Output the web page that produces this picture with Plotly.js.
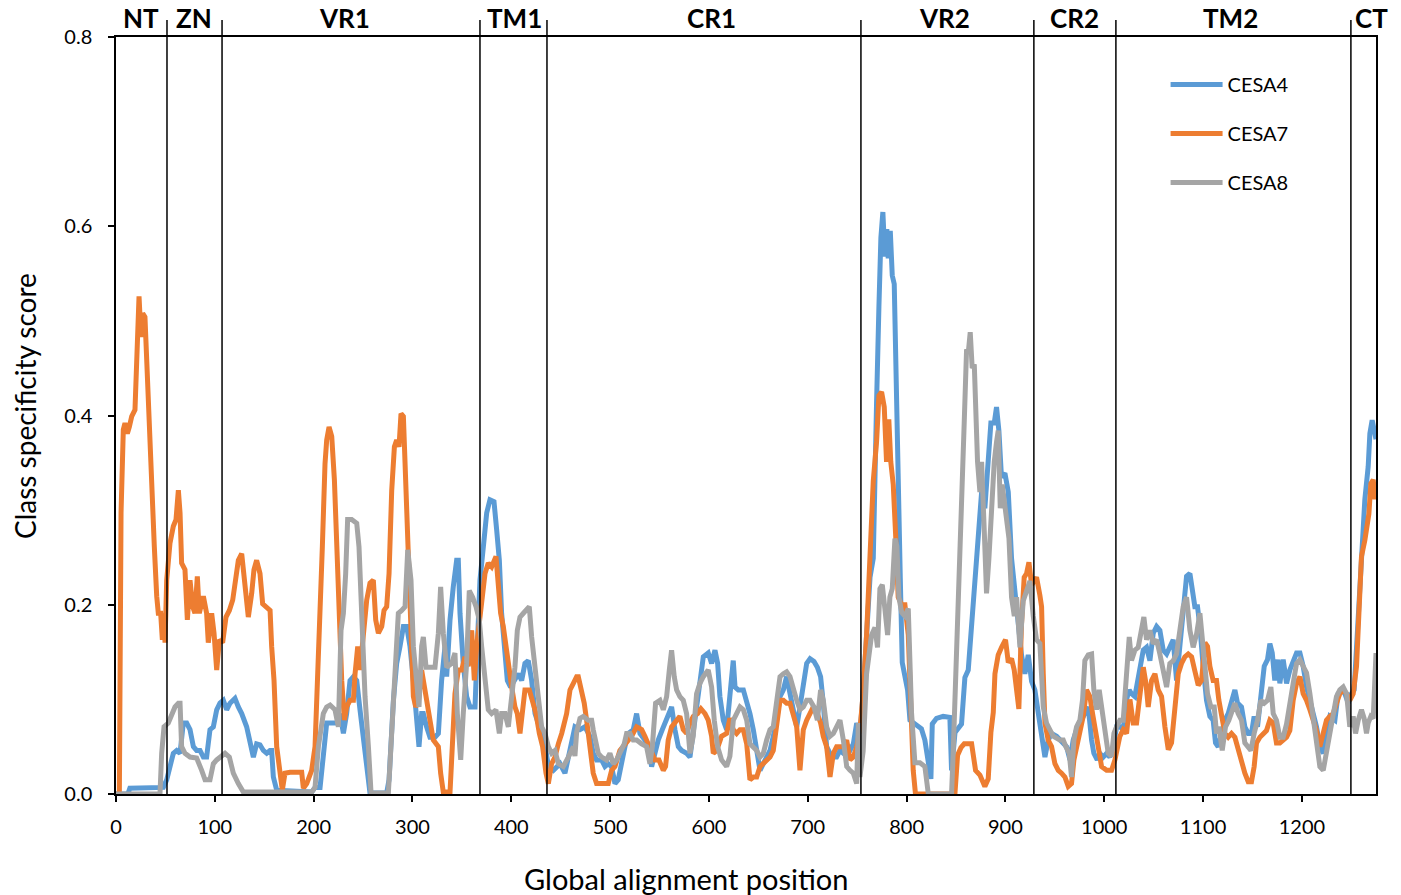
<!DOCTYPE html>
<html>
<head>
<meta charset="utf-8">
<script src="https://cdn.plot.ly/plotly-3.0.1.min.js"></script>
<style>
html,body{margin:0;padding:0;background:#fff;}
#chart{width:1401px;height:895px;}
</style>
</head>
<body>
<div id="chart"></div>
<script>
// ---- Data ----
const seriesNames = ["CESA4", "CESA7", "CESA8"];

// [alignment position, class specificity score]
const cesa4Points = [[0,0],[12,0],[14,0.006],[45,0.006],[47.9,0.007],[51.3,0.015],[54.6,0.029],[58,0.043],[61.4,0.046],[64.8,0.043],[68.1,0.075],[71.5,0.075],[74.9,0.068],[78.3,0.05],[81.6,0.046],[85,0.046],[88.4,0.039],[91.7,0.039],[95.1,0.068],[98.5,0.071],[101.9,0.089],[105.2,0.096],[108.6,0.099],[112,0.089],[115.4,0.096],[120.4,0.101],[123.8,0.092],[127.2,0.085],[132.2,0.071],[135.6,0.057],[139,0.039],[142.3,0.053],[145.7,0.052],[149.1,0.046],[152.5,0.043],[155.8,0.046],[157.5,0.046],[159.2,0.018],[162.6,0.004],[198,0.002],[201.4,0.007],[206.5,0.007],[209.8,0.039],[213.2,0.075],[218.3,0.075],[223.3,0.075],[226.7,0.085],[230.1,0.064],[233.4,0.085],[236.8,0.12],[240.2,0.124],[243.6,0.12],[246.9,0.089],[250.3,0.06],[253.7,0.029],[257,0.001],[273.9,0.001],[276.3,0.015],[280.7,0.099],[284,0.138],[287.4,0.156],[290.8,0.177],[294.2,0.177],[297.5,0.156],[300.9,0.12],[304.3,0.085],[306.6,0.05],[309.3,0.085],[311,0.085],[314.3,0.071],[317.7,0.06],[322.8,0.06],[326.2,0.064],[329.5,0.12],[332.9,0.156],[334.6,0.124],[338,0.184],[341.3,0.219],[344.7,0.247],[346.4,0.247],[348.1,0.191],[351.4,0.138],[354.8,0.103],[358.2,0.092],[363.3,0.092],[365.6,0.156],[368.3,0.226],[371.7,0.261],[375.1,0.297],[378.4,0.311],[382.5,0.309],[385.2,0.279],[387.9,0.247],[390.2,0.191],[392.6,0.156],[396,0.12],[399.3,0.113],[403.7,0.12],[407.1,0.127],[410.5,0.12],[413.8,0.138],[417.2,0.141],[420.6,0.12],[424,0.085],[428.4,0.071],[432.4,0.064],[437.5,0.029],[442.5,0.025],[449.3,0.032],[454.3,0.022],[459.4,0.05],[464.4,0.071],[469.5,0.068],[474.5,0.071],[479.6,0.061],[482.9,0.043],[486.3,0.036],[491.4,0.036],[494.8,0.029],[498.1,0.032],[501.5,0.029],[504.9,0.011],[508.2,0.015],[511.6,0.036],[515,0.05],[518.4,0.064],[523.4,0.068],[526.8,0.085],[530.2,0.064],[535.2,0.057],[538.6,0.05],[542,0.029],[545.4,0.043],[548.7,0.057],[552.8,0.068],[557.2,0.078],[562.2,0.092],[565.6,0.068],[569,0.05],[572.3,0.046],[577.4,0.043],[580.8,0.039],[584.1,0.064],[587.5,0.096],[590.9,0.124],[594.3,0.145],[599.3,0.149],[602.7,0.138],[606.1,0.152],[608.8,0.138],[611.1,0.103],[614.5,0.078],[617.9,0.068],[621.2,0.103],[624.6,0.141],[626.4,0.113],[629.7,0.11],[634.8,0.11],[638.2,0.099],[641.5,0.085],[644.9,0.068],[648.3,0.043],[651.7,0.025],[655,0.032],[658.4,0.039],[661.8,0.046],[665.1,0.061],[668.5,0.078],[671.9,0.103],[675.3,0.11],[678.6,0.124],[682,0.106],[685.4,0.089],[688.8,0.071],[692.1,0.092],[695.5,0.113],[698.9,0.138],[702.3,0.143],[706.3,0.14],[709.7,0.134],[713,0.124],[715.7,0.096],[719.1,0.05],[722.5,0.043],[725.9,0.039],[729.2,0.039],[732.6,0.046],[736,0.043],[739.4,0.046],[742.7,0.046],[746.1,0.053],[749.5,0.075],[752.8,0.064],[756,0.106],[759.5,0.168],[763,0.229],[766.3,0.249],[768,0.31],[769.6,0.413],[772,0.515],[774,0.588],[776,0.615],[778,0.568],[780,0.597],[781.4,0.566],[783.5,0.595],[785.5,0.548],[787.5,0.539],[789.5,0.454],[791.5,0.331],[793.6,0.229],[795.6,0.139],[798.3,0.123],[801,0.11],[803.4,0.078],[808.4,0.074],[815,0.069],[818.5,0.057],[822,0.033],[824.6,0.016],[826,0.074],[830.3,0.08],[837,0.082],[843.8,0.081],[845.5,0.025],[849,0.065],[855.6,0.074],[859,0.123],[862.4,0.131],[865.8,0.18],[868.5,0.229],[870.8,0.249],[873.2,0.29],[875.9,0.319],[879.2,0.302],[882,0.351],[885.3,0.392],[888.7,0.392],[891,0.409],[893.4,0.384],[896,0.335],[899.5,0.339],[902.9,0.319],[906.2,0.249],[909.6,0.212],[913,0.188],[916.3,0.147],[919.7,0.127],[923.1,0.147],[926.5,0.119],[929.8,0.11],[934.9,0.074],[940,0.039],[943.3,0.057],[946.7,0.064],[951.8,0.061],[958.5,0.054],[961.9,0.05],[965.3,0.036],[968.6,0.057],[972,0.068],[975.4,0.075],[980.4,0.085],[983.8,0.092],[987.2,0.057],[989.5,0.043],[992.9,0.036],[995.6,0.043],[999,0.039],[1002.4,0.043],[1005.7,0.039],[1009.1,0.05],[1012.5,0.071],[1015.8,0.071],[1019.2,0.068],[1022.6,0.1],[1025.3,0.11],[1027.6,0.106],[1031,0.103],[1033.4,0.117],[1036.1,0.127],[1039.5,0.152],[1042.8,0.155],[1046.2,0.141],[1049.6,0.17],[1053,0.177],[1056.3,0.173],[1059.7,0.152],[1063.1,0.148],[1066.4,0.155],[1069.8,0.163],[1073.2,0.12],[1076.6,0.155],[1079.9,0.201],[1083.3,0.23],[1086.7,0.233],[1089.4,0.216],[1091.7,0.198],[1094.4,0.198],[1096.8,0.177],[1100.1,0.135],[1103.5,0.099],[1106.9,0.082],[1110.2,0.078],[1112.6,0.054],[1115.3,0.05],[1118.7,0.064],[1122.1,0.078],[1125.4,0.085],[1129.5,0.099],[1132.2,0.11],[1134.9,0.096],[1138.9,0.092],[1142.3,0.071],[1145.7,0.064],[1149,0.064],[1151.7,0.082],[1155.1,0.071],[1158.5,0.106],[1161.9,0.135],[1165.2,0.142],[1167.6,0.159],[1170,0.149],[1172.6,0.12],[1175.7,0.142],[1177.7,0.117],[1181.1,0.142],[1184.5,0.117],[1187.8,0.131],[1191.2,0.142],[1194.6,0.149],[1198,0.149],[1201.3,0.135],[1204.7,0.113],[1208.1,0.099],[1211.4,0.082],[1214.8,0.071],[1218.2,0.05],[1221.6,0.043],[1224.9,0.067],[1228.3,0.082],[1233.4,0.078],[1236.7,0.106],[1240.1,0.11],[1243.5,0.106],[1246.9,0.096],[1250.2,0.106],[1252.9,0.11],[1255.3,0.152],[1257.6,0.205],[1260.3,0.258],[1263.7,0.311],[1267.1,0.346],[1268.8,0.381],[1271.1,0.395],[1273.8,0.378],[1275,0.375]];

const cesa7Points = [[0,0],[3.4,0],[5.1,0.297],[7.4,0.385],[9.1,0.392],[11.5,0.381],[13.5,0.388],[15.9,0.399],[19.2,0.406],[20.9,0.455],[23.3,0.526],[25.3,0.483],[27,0.508],[29.3,0.504],[31,0.455],[33.4,0.402],[36.1,0.325],[38.8,0.261],[41.2,0.209],[42.8,0.191],[45.2,0.191],[46.9,0.163],[48.6,0.191],[49.6,0.16],[51.3,0.226],[54.6,0.265],[58,0.283],[60.7,0.29],[63.1,0.321],[64.8,0.297],[66.4,0.244],[69.8,0.237],[72.2,0.184],[74.9,0.226],[77.6,0.198],[79.9,0.191],[82.3,0.23],[84.3,0.191],[88.4,0.209],[91.7,0.191],[93.4,0.16],[96.8,0.191],[99.2,0.17],[101.9,0.131],[104.6,0.163],[107.9,0.16],[111.3,0.187],[114.7,0.194],[118.1,0.205],[121.4,0.226],[123.8,0.247],[127.2,0.254],[130.5,0.226],[133.9,0.187],[137.3,0.212],[139.6,0.237],[142.3,0.247],[145.7,0.233],[148.4,0.201],[152.5,0.198],[155.9,0.194],[157.5,0.156],[159.9,0.12],[162.6,0.05],[166,0.018],[168.3,0.004],[171,0.022],[176.1,0.023],[187.9,0.023],[189.6,0.006],[193,0.011],[198,0.025],[201.4,0.05],[204.1,0.12],[206.5,0.191],[208.8,0.261],[211.5,0.349],[213.2,0.374],[215.6,0.388],[218.3,0.378],[221,0.332],[223.3,0.261],[225.7,0.191],[228.4,0.12],[231.1,0.078],[233.4,0.092],[236.8,0.099],[240.2,0.099],[241.9,0.127],[244.6,0.156],[246.9,0.131],[250.3,0.163],[253.7,0.205],[257,0.223],[260.4,0.226],[262.8,0.184],[265.5,0.17],[268.9,0.177],[271.2,0.194],[273.9,0.198],[276.3,0.233],[279,0.321],[281.7,0.367],[284,0.374],[286.4,0.367],[288.4,0.402],[290.8,0.399],[293.1,0.332],[295.8,0.244],[298.5,0.156],[300.9,0.103],[303.3,0.092],[306,0.099],[309.3,0.131],[311,0.12],[314.3,0.092],[317.7,0.078],[321.1,0.057],[326.2,0.05],[328.5,0.022],[331.2,0.002],[338,0.002],[340.7,0.05],[343,0.106],[346.4,0.131],[349.8,0.131],[353.1,0.145],[356.5,0.135],[359.9,0.173],[362.6,0.12],[364.9,0.156],[367.6,0.184],[370,0.208],[373.4,0.233],[376.7,0.244],[380.1,0.24],[384.5,0.251],[386.9,0.215],[389.2,0.191],[391.9,0.177],[394.6,0.156],[397,0.134],[400.4,0.113],[403.7,0.092],[406.1,0.085],[408.8,0.064],[411.5,0.085],[413.8,0.11],[418.2,0.11],[421.6,0.099],[425,0.085],[428.4,0.064],[431.7,0.05],[435.1,0.022],[437.5,0.011],[440.8,0.032],[444.2,0.039],[447.6,0.053],[451,0.064],[456,0.085],[459.4,0.11],[462.8,0.117],[466.1,0.124],[467.8,0.124],[471.1,0.11],[473.8,0.096],[476.2,0.078],[479.6,0.043],[482.9,0.022],[486.3,0.011],[498.1,0.011],[501.5,0.025],[504.9,0.029],[509.9,0.046],[513.3,0.05],[517.7,0.057],[521.7,0.061],[526.8,0.071],[531.9,0.068],[535.2,0.061],[538.6,0.053],[542,0.043],[545.4,0.036],[549.4,0.036],[553.8,0.025],[556.1,0.029],[558.8,0.057],[562.2,0.071],[565.6,0.075],[570.6,0.082],[574,0.068],[577.4,0.064],[580.8,0.075],[584.1,0.082],[588.5,0.085],[591.9,0.09],[596,0.085],[599.3,0.078],[602.7,0.061],[604.4,0.043],[607.8,0.046],[612.8,0.061],[617.9,0.064],[621.2,0.08],[624.6,0.068],[628,0.064],[631.4,0.068],[634.8,0.068],[638.2,0.053],[641.5,0.015],[644.9,0.018],[648.3,0.018],[651.7,0.029],[655,0.032],[658.4,0.036],[661.8,0.039],[665.1,0.046],[668.5,0.078],[671.9,0.099],[675.3,0.099],[678.6,0.096],[682,0.096],[685.4,0.085],[688.8,0.071],[692.1,0.025],[695.5,0.068],[698.9,0.078],[702.3,0.085],[705.6,0.092],[709.7,0.085],[713,0.075],[715.7,0.061],[719.1,0.05],[722.5,0.018],[725.9,0.043],[729.2,0.05],[736,0.05],[739.4,0.057],[742.7,0.036],[746.1,0.039],[749.5,0.05],[752.8,0.068],[756,0.106],[759.5,0.168],[763,0.249],[766.3,0.331],[769.6,0.372],[772,0.421],[774.7,0.425],[777.4,0.409],[779.7,0.351],[782,0.396],[784,0.351],[786.5,0.327],[788.9,0.274],[791.5,0.208],[795,0.2],[798.3,0.2],[801.7,0.168],[804.4,0.086],[806.7,0.025],[809,0],[848.9,0],[851.6,0.041],[855,0.049],[858.3,0.053],[865.8,0.053],[869.8,0.025],[874.2,0.02],[879.2,0.008],[882.6,0.016],[885.3,0.065],[887.7,0.086],[889.4,0.127],[892.7,0.147],[896.1,0.155],[900.1,0.163],[902.9,0.139],[906.2,0.143],[908.9,0.131],[911.3,0.11],[913.6,0.09],[916.3,0.18],[919,0.229],[921.4,0.233],[923.8,0.245],[926.5,0.221],[931.5,0.229],[934.9,0.21],[936.6,0.198],[938.3,0.127],[940,0.075],[943.3,0.057],[946.7,0.05],[950.1,0.032],[953.5,0.025],[956.8,0.022],[960.2,0.018],[963.6,0.008],[966.9,0.011],[969.3,0.036],[972,0.05],[975.4,0.064],[978.7,0.082],[982.1,0.11],[985.5,0.103],[988.2,0.085],[990.6,0.071],[993.9,0.05],[997.3,0.029],[1002.4,0.025],[1007.4,0.025],[1010.8,0.036],[1013.2,0.05],[1015.8,0.061],[1019.2,0.068],[1022.6,0.064],[1026,0.1],[1029.3,0.075],[1032.7,0.075],[1036.1,0.11],[1039.5,0.134],[1042.2,0.117],[1044.5,0.092],[1047.9,0.12],[1051.3,0.127],[1054.6,0.11],[1058,0.103],[1061.4,0.071],[1064.8,0.047],[1068.1,0.054],[1071.5,0.085],[1074.9,0.127],[1078.2,0.138],[1081.6,0.145],[1085,0.148],[1088.4,0.145],[1091.7,0.13],[1095.1,0.115],[1098.5,0.12],[1101.9,0.16],[1104.5,0.156],[1106.9,0.135],[1110.2,0.12],[1113.6,0.12],[1116,0.099],[1118.7,0.082],[1122.1,0.064],[1125.4,0.06],[1128.8,0.064],[1132.2,0.06],[1135.5,0.046],[1138.9,0.036],[1142.3,0.022],[1145.7,0.013],[1149,0.013],[1151.7,0.029],[1154.1,0.054],[1157.5,0.06],[1160.8,0.064],[1164.2,0.067],[1167.6,0.078],[1171,0.075],[1174.3,0.054],[1177.7,0.054],[1181.1,0.057],[1184.5,0.06],[1187.8,0.067],[1191.2,0.099],[1194.6,0.117],[1198,0.124],[1201.3,0.106],[1204.7,0.099],[1208.1,0.089],[1211.4,0.078],[1214.8,0.067],[1218.2,0.05],[1221.6,0.064],[1224.9,0.078],[1228.3,0.082],[1231.7,0.085],[1235,0.096],[1238.4,0.106],[1241.8,0.11],[1245.2,0.106],[1248.5,0.099],[1251.9,0.106],[1255.3,0.135],[1257.6,0.188],[1260.3,0.251],[1263.7,0.268],[1265.4,0.282],[1267.8,0.296],[1269.8,0.328],[1272.2,0.332],[1273.8,0.314],[1275,0.314]];

const cesa8Points = [[0,0],[44.5,0],[46.2,0.043],[48.6,0.071],[52.9,0.075],[56.3,0.085],[59.7,0.092],[63.1,0.096],[64.8,0.096],[66.4,0.05],[69.8,0.043],[74.9,0.039],[81.6,0.038],[86.7,0.025],[90.1,0.015],[95.1,0.015],[98.5,0.032],[101.9,0.036],[105.2,0.039],[110.3,0.043],[114.7,0.039],[118.7,0.022],[123.8,0.011],[128.9,0.002],[198,0.002],[201.4,0.007],[204.8,0.05],[209.8,0.085],[213.2,0.092],[216.6,0.094],[221.6,0.089],[225,0.071],[227.7,0.173],[230.1,0.191],[232.4,0.233],[234.4,0.29],[238.5,0.29],[243.6,0.286],[245.9,0.261],[248.6,0.191],[252,0.103],[255.4,0.05],[258.1,0.001],[275.6,0.001],[278.3,0.05],[282.3,0.12],[285.7,0.191],[289.1,0.194],[292.5,0.198],[295.2,0.258],[298.5,0.226],[300.9,0.156],[304.3,0.12],[306.6,0.092],[309.3,0.156],[311,0.166],[313.7,0.134],[322.8,0.134],[326.2,0.17],[328.5,0.219],[331.2,0.17],[334.6,0.134],[339.6,0.138],[343,0.149],[345.4,0.085],[348.8,0.036],[351.4,0.085],[354.8,0.138],[357.5,0.215],[360.9,0.208],[364.3,0.198],[367.6,0.184],[370,0.156],[373.4,0.12],[376.7,0.089],[380.1,0.085],[384.5,0.089],[387.9,0.064],[390.2,0.085],[393.6,0.085],[397,0.071],[400.4,0.103],[403.7,0.134],[406.1,0.173],[408.8,0.187],[412.2,0.191],[415.5,0.194],[418.2,0.198],[420.6,0.166],[424,0.134],[427.3,0.092],[430.7,0.071],[434.1,0.064],[437.5,0.05],[440.8,0.043],[444.2,0.046],[447.6,0.032],[452.6,0.029],[457.7,0.039],[462.8,0.05],[464.4,0.04],[466.1,0.065],[469.5,0.08],[472.8,0.082],[477.9,0.078],[481.3,0.078],[482.9,0.068],[485.3,0.053],[488,0.043],[491.4,0.039],[496.4,0.036],[499.8,0.043],[503.2,0.032],[506.6,0.036],[509.9,0.043],[514.3,0.053],[516.7,0.064],[520.1,0.064],[523.4,0.057],[526.8,0.057],[531.9,0.053],[536.9,0.05],[540.3,0.032],[542.7,0.05],[546,0.096],[550.4,0.099],[553.8,0.089],[557.2,0.103],[559.9,0.131],[562.2,0.152],[564.9,0.124],[567.3,0.11],[570.6,0.103],[574,0.099],[577.4,0.085],[580.8,0.043],[584.1,0.061],[587.5,0.106],[590.9,0.117],[594.3,0.124],[599.3,0.131],[602.7,0.113],[605.4,0.078],[608.8,0.05],[612.8,0.036],[617.9,0.029],[621.2,0.04],[624.7,0.078],[628,0.085],[631.4,0.092],[634.8,0.089],[638.2,0.078],[641.5,0.053],[644.9,0.05],[648.3,0.046],[651.7,0.039],[655,0.043],[658.4,0.057],[661.8,0.068],[665.1,0.071],[668.5,0.096],[671.9,0.124],[675.3,0.127],[678.6,0.129],[682,0.124],[685.4,0.11],[688.8,0.099],[692.1,0.089],[695.5,0.092],[698.9,0.099],[702.3,0.099],[706.3,0.092],[709.7,0.078],[713,0.11],[715.7,0.099],[719.1,0.071],[722.5,0.061],[725.9,0.064],[729.2,0.071],[732.6,0.078],[736,0.057],[739.4,0.029],[742.7,0.025],[746.1,0.022],[749.5,0.011],[751.2,0.075],[752.8,0.018],[756,0.045],[759.5,0.127],[764.6,0.168],[768,0.176],[770.6,0.155],[773,0.217],[775.4,0.221],[778,0.196],[780.8,0.168],[783.1,0.208],[785.5,0.217],[788.2,0.27],[790.2,0.262],[792.2,0.208],[795,0.192],[798.3,0.188],[801.7,0.196],[805,0.086],[808.4,0.033],[813.5,0.033],[818.5,0.029],[822,0],[845.5,0],[847.2,0.045],[850.6,0.147],[854,0.229],[855.6,0.302],[858.3,0.392],[860.7,0.47],[862.4,0.466],[864.4,0.488],[866.4,0.45],[868.5,0.454],[869.8,0.392],[871.8,0.351],[874.2,0.319],[875.9,0.351],[878.6,0.278],[880.9,0.212],[883.3,0.249],[886,0.31],[888.7,0.351],[891,0.372],[892.7,0.384],[894.8,0.302],[896.8,0.327],[898.8,0.31],[901.2,0.29],[903.6,0.27],[906.2,0.208],[909,0.188],[911.3,0.208],[914.7,0.155],[918,0.204],[921.4,0.217],[924.8,0.225],[928.2,0.188],[931.5,0.163],[934.9,0.159],[936.6,0.127],[938.3,0.092],[941.6,0.075],[945,0.068],[948.4,0.061],[955.1,0.057],[958.5,0.057],[961.2,0.05],[964.6,0.043],[966.9,0.018],[969.3,0.057],[972,0.071],[975.4,0.078],[978.1,0.1],[980.4,0.141],[983.8,0.147],[987.2,0.148],[989.5,0.11],[992.2,0.089],[994.9,0.11],[997.3,0.092],[1000.7,0.068],[1004,0.043],[1007.4,0.04],[1009.8,0.064],[1012.5,0.071],[1015.8,0.078],[1019.2,0.078],[1022.6,0.134],[1025.3,0.166],[1027.6,0.141],[1031,0.152],[1034.4,0.155],[1037.8,0.173],[1040.1,0.187],[1042.8,0.163],[1046.2,0.173],[1049.6,0.159],[1053,0.163],[1056.3,0.148],[1059.7,0.127],[1063.1,0.113],[1066.4,0.138],[1069.8,0.141],[1073.2,0.148],[1076.6,0.173],[1079.9,0.198],[1083.3,0.208],[1086.7,0.173],[1090,0.155],[1093.4,0.169],[1096.8,0.191],[1099.5,0.163],[1101.8,0.135],[1104.5,0.106],[1107.9,0.092],[1111.3,0.092],[1113.6,0.064],[1116,0.071],[1119.4,0.046],[1122.7,0.071],[1126.1,0.078],[1129.5,0.089],[1132.2,0.096],[1135.5,0.085],[1138.9,0.078],[1142.3,0.054],[1145,0.05],[1148.4,0.046],[1151.7,0.064],[1155.1,0.078],[1158.5,0.099],[1161.9,0.096],[1165.2,0.099],[1168.6,0.113],[1171,0.085],[1174.3,0.078],[1177.7,0.06],[1181.1,0.06],[1184.5,0.074],[1187.8,0.099],[1191.2,0.117],[1194.6,0.138],[1198,0.142],[1201.3,0.135],[1204.7,0.128],[1208.1,0.106],[1211.4,0.082],[1214.8,0.054],[1218.2,0.029],[1221.6,0.025],[1224.9,0.043],[1228.3,0.064],[1231.7,0.085],[1235,0.103],[1238.4,0.11],[1241.8,0.113],[1245.2,0.106],[1248.5,0.071],[1251.9,0.082],[1254.3,0.064],[1257,0.078],[1260.3,0.089],[1263,0.08],[1265.4,0.064],[1267.1,0.075],[1269.8,0.082],[1272.2,0.08],[1273.8,0.142],[1275,0.149]];

// Protein region boundaries (alignment positions) and labels
const regionBounds = [51.6, 107.3, 368.3, 436.1, 753.8, 928.8, 1011.8, 1249.6];
const regionNames = ["NT", "ZN", "VR1", "TM1", "CR1", "VR2", "CR2", "TM2", "CT"];
const regionLabelPos = [25, 79, 231, 403, 603, 838, 970, 1128, 1270];

const xTicks = [0, 100, 200, 300, 400, 500, 600, 700, 800, 900, 1000, 1100, 1200];
const yTicks = [0, 0.2, 0.4, 0.6, 0.8];
const xTitle = "Global alignment position";
const yTitle = "Class specificity score";

// ---- Build chart ----
const colors = ["#5B9BD5", "#ED7D31", "#A5A5A5"];
const allPoints = [cesa4Points, cesa7Points, cesa8Points];
const FONT = "Lato, 'Open Sans', sans-serif";

const traces = allPoints.map((pts, i) => ({
  type: "scatter",
  mode: "lines",
  name: seriesNames[i],
  legendgroup: seriesNames[i],
  x: pts.map(p => p[0]),
  y: pts.map(p => p[1]),
  line: {color: colors[i], width: 5, shape: "linear"},
  hoverinfo: "x+y+name"
}));

const shapes = regionBounds.map(b => ({
  type: "line", xref: "x", yref: "paper",
  x0: b, x1: b, y0: 0, y1: 1.0225,
  line: {color: "#000", width: 1.5},
  layer: "above"
}));

const annotations = regionNames.map((n, i) => ({
  text: "<b>" + n + "</b>",
  x: regionLabelPos[i], xref: "x",
  y: 1.0255, yref: "paper",
  xanchor: "center", yanchor: "middle",
  showarrow: false,
  font: {family: FONT, size: 26, color: "#000"}
}));

annotations.push({
  text: xTitle, xref: "paper", yref: "paper",
  x: 0.452, y: -0.111, xanchor: "center", yanchor: "middle",
  showarrow: false,
  font: {family: FONT, size: 29, color: "#000"}
});
annotations.push({
  text: yTitle, xref: "paper", yref: "paper",
  x: -0.0722, y: 0.5125, xanchor: "center", yanchor: "middle",
  textangle: -90, showarrow: false,
  font: {family: FONT, size: 28, color: "#000"}
});

const layout = {
  width: 1401, height: 895,
  margin: {l: 116, r: 25, t: 37, b: 101},
  paper_bgcolor: "#fff", plot_bgcolor: "#fff",
  font: {family: FONT, color: "#000"},
  showlegend: true,
  legend: {
    x: 0.833, y: 0.963, xanchor: "left", yanchor: "top",
    bgcolor: "rgba(0,0,0,0)",
    font: {family: FONT, size: 20, color: "#000"},
    traceorder: "grouped", tracegroupgap: 20,
    itemwidth: 52
  },
  xaxis: {
    range: [0, 1275], tickvals: xTicks, ticktext: xTicks.map(String),
    ticks: "outside", ticklen: 6, tickwidth: 1.5, tickcolor: "#000",
    ticklabelstandoff: 8,
    showline: true, linecolor: "#000", linewidth: 1.5, mirror: true,
    showgrid: false, zeroline: false,
    tickfont: {family: FONT, size: 20, color: "#000"}
  },
  yaxis: {
    range: [0, 0.8], tickvals: yTicks, ticktext: yTicks.map(v => v.toFixed(1)),
    ticks: "outside", ticklen: 6, tickwidth: 1.5, tickcolor: "#000",
    ticklabelstandoff: 12,
    showline: true, linecolor: "#000", linewidth: 1.5, mirror: true,
    showgrid: false, zeroline: false,
    tickfont: {family: FONT, size: 20, color: "#000"}
  },
  shapes: shapes,
  annotations: annotations
};

Plotly.newPlot("chart", traces, layout, {displayModeBar: false});
</script>
</body>
</html>
